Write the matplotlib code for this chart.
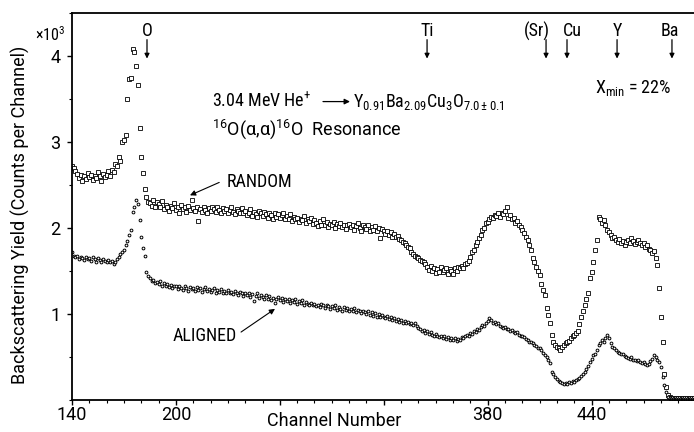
import matplotlib
matplotlib.use("Agg")
import matplotlib.pyplot as plt
import matplotlib.font_manager as fm
from matplotlib.ticker import MultipleLocator

# ---------------- data (yield in units of 10^3 counts per channel) ----------------
channel_start = 140
random_yield = [
    2.72, 2.70, 2.66, 2.63, 2.58, 2.62, 2.55, 2.60, 2.57, 2.64,   # 140
    2.59, 2.62, 2.56, 2.61, 2.58, 2.65, 2.60, 2.55, 2.63, 2.59,   # 150
    2.62, 2.66, 2.60, 2.68, 2.65, 2.74, 2.72, 2.82, 2.78, 3.00,   # 160
    3.02, 3.08, 3.50, 3.73, 3.75, 4.08, 4.05, 3.88, 3.66, 3.16,   # 170
    2.82, 2.64, 2.45, 2.36, 2.30, 2.29, 2.26, 2.33, 2.24, 2.30,   # 180
    2.28, 2.25, 2.31, 2.22, 2.27, 2.24, 2.20, 2.26, 2.23, 2.29,   # 190
    2.21, 2.25, 2.18, 2.27, 2.22, 2.24, 2.19, 2.26, 2.21, 2.33,   # 200
    2.23, 2.20, 2.25, 2.08, 2.22, 2.19, 2.24, 2.21, 2.18, 2.23,   # 210
    2.20, 2.24, 2.22, 2.19, 2.25, 2.21, 2.18, 2.23, 2.20, 2.22,   # 220
    2.17, 2.21, 2.24, 2.19, 2.16, 2.22, 2.20, 2.18, 2.23, 2.17,   # 230
    2.20, 2.15, 2.18, 2.22, 2.14, 2.19, 2.16, 2.13, 2.20, 2.17,   # 240
    2.14, 2.19, 2.16, 2.12, 2.18, 2.15, 2.10, 2.17, 2.13, 2.16,   # 250
    2.12, 2.15, 2.18, 2.10, 2.14, 2.11, 2.16, 2.08, 2.13, 2.10,   # 260
    2.12, 2.07, 2.11, 2.09, 2.14, 2.06, 2.10, 2.08, 2.12, 2.05,   # 270
    2.09, 2.06, 2.02, 2.08, 2.04, 2.10, 2.03, 2.07, 2.01, 2.05,   # 280
    2.03, 2.07, 2.00, 2.05, 2.02, 2.06, 2.01, 2.04, 1.99, 2.03,   # 290
    2.05, 2.01, 2.03, 1.98, 2.02, 2.06, 2.00, 1.97, 2.03, 2.01,   # 300
    1.99, 2.03, 1.96, 2.01, 1.98, 2.02, 1.97, 2.00, 1.88, 1.99,   # 310
    1.97, 1.93, 1.96, 1.92, 1.95, 1.90, 1.93, 1.89, 1.91, 1.87,   # 320
    1.86, 1.84, 1.82, 1.80, 1.78, 1.77, 1.72, 1.70, 1.68, 1.66,   # 330
    1.65, 1.63, 1.62, 1.60, 1.58, 1.55, 1.51, 1.56, 1.50, 1.53,   # 340
    1.48, 1.52, 1.49, 1.55, 1.49, 1.51, 1.54, 1.47, 1.52, 1.50,   # 350
    1.46, 1.53, 1.50, 1.55, 1.53, 1.56, 1.54, 1.58, 1.59, 1.62,   # 360
    1.66, 1.72, 1.75, 1.80, 1.84, 1.88, 1.92, 1.98, 2.00, 2.06,   # 370
    2.07, 2.10, 2.13, 2.12, 2.15, 2.14, 2.17, 2.13, 2.18, 2.16,   # 380
    2.20, 2.24, 2.12, 2.15, 2.11, 2.12, 2.06, 2.08, 2.04, 2.01,   # 390
    1.98, 1.94, 1.90, 1.86, 1.80, 1.74, 1.65, 1.60, 1.55, 1.50,   # 400
    1.45, 1.35, 1.28, 1.22, 1.07, 0.99, 0.90, 0.76, 0.68, 0.64,   # 410
    0.62, 0.60, 0.58, 0.62, 0.64, 0.66, 0.67, 0.69, 0.72, 0.74,   # 420
    0.76, 0.78, 0.80, 0.88, 0.97, 1.04, 1.10, 1.18, 1.24, 1.42,   # 430
    1.49, 1.60, 1.74, 1.86, 2.13, 2.10, 2.06, 2.09, 2.03, 1.98,   # 440
    1.95, 1.92, 1.88, 1.90, 1.86, 1.84, 1.87, 1.82, 1.85, 1.80,   # 450
    1.84, 1.86, 1.83, 1.88, 1.85, 1.81, 1.84, 1.86, 1.82, 1.80,   # 460
    1.83, 1.78, 1.80, 1.76, 1.74, 1.71, 1.73, 1.65, 1.57, 1.30,   # 470
    0.97, 0.67, 0.30, 0.15, 0.06, 0.03, 0.02, 0.02, 0.02, 0.02,   # 480
    0.02, 0.02, 0.02, 0.02, 0.02, 0.02, 0.02, 0.02, 0.02, 0.02,   # 490
]
aligned_yield = [
    1.72, 1.68, 1.66, 1.67, 1.64, 1.66, 1.65, 1.63, 1.66, 1.64,   # 140
    1.65, 1.62, 1.66, 1.64, 1.61, 1.65, 1.63, 1.60, 1.64, 1.62,   # 150
    1.61, 1.63, 1.60, 1.62, 1.58, 1.61, 1.64, 1.66, 1.70, 1.72,   # 160
    1.74, 1.80, 1.85, 1.92, 1.98, 2.19, 2.25, 2.32, 2.28, 2.09,   # 170
    1.90, 1.77, 1.67, 1.49, 1.44, 1.42, 1.38, 1.40, 1.36, 1.37,   # 180
    1.35, 1.38, 1.33, 1.36, 1.32, 1.35, 1.31, 1.34, 1.30, 1.33,   # 190
    1.32, 1.29, 1.33, 1.30, 1.28, 1.32, 1.30, 1.27, 1.31, 1.29,   # 200
    1.30, 1.27, 1.31, 1.28, 1.30, 1.26, 1.29, 1.31, 1.27, 1.29,   # 210
    1.26, 1.28, 1.30, 1.25, 1.28, 1.26, 1.29, 1.24, 1.27, 1.25,   # 220
    1.28, 1.24, 1.26, 1.23, 1.27, 1.25, 1.22, 1.26, 1.24, 1.21,   # 230
    1.25, 1.22, 1.24, 1.20, 1.23, 1.15, 1.21, 1.24, 1.19, 1.22,   # 240
    1.20, 1.17, 1.22, 1.18, 1.21, 1.16, 1.19, 1.13, 1.18, 1.20,   # 250
    1.16, 1.19, 1.14, 1.17, 1.15, 1.18, 1.13, 1.16, 1.14, 1.17,   # 260
    1.12, 1.15, 1.13, 1.16, 1.11, 1.14, 1.12, 1.10, 1.13, 1.11,   # 270
    1.12, 1.09, 1.11, 1.08, 1.12, 1.10, 1.07, 1.11, 1.09, 1.06,   # 280
    1.09, 1.07, 1.10, 1.05, 1.08, 1.06, 1.04, 1.08, 1.05, 1.07,   # 290
    1.04, 1.06, 1.03, 1.07, 1.02, 1.05, 1.03, 1.01, 1.04, 1.02,   # 300
    1.00, 1.03, 0.99, 1.02, 0.98, 1.01, 0.97, 1.00, 0.96, 0.99,   # 310
    0.97, 0.95, 0.98, 0.94, 0.96, 0.93, 0.95, 0.92, 0.94, 0.91,   # 320
    0.93, 0.90, 0.92, 0.89, 0.91, 0.88, 0.90, 0.87, 0.89, 0.86,   # 330
    0.84, 0.82, 0.80, 0.81, 0.78, 0.80, 0.77, 0.79, 0.76, 0.75,   # 340
    0.77, 0.74, 0.73, 0.75, 0.72, 0.74, 0.71, 0.73, 0.70, 0.72,   # 350
    0.70, 0.72, 0.69, 0.71, 0.70, 0.73, 0.72, 0.75, 0.76, 0.74,   # 360
    0.78, 0.77, 0.80, 0.79, 0.82, 0.81, 0.85, 0.87, 0.86, 0.90,   # 370
    0.92, 0.95, 0.93, 0.90, 0.91, 0.88, 0.89, 0.86, 0.85, 0.84,   # 380
    0.85, 0.82, 0.83, 0.80, 0.81, 0.79, 0.78, 0.79, 0.76, 0.75,   # 390
    0.74, 0.73, 0.71, 0.70, 0.68, 0.67, 0.66, 0.64, 0.63, 0.61,   # 400
    0.60, 0.58, 0.55, 0.52, 0.50, 0.47, 0.43, 0.33, 0.30, 0.27,   # 410
    0.24, 0.22, 0.21, 0.20, 0.19, 0.20, 0.19, 0.21, 0.20, 0.22,   # 420
    0.21, 0.23, 0.24, 0.26, 0.28, 0.30, 0.33, 0.36, 0.40, 0.44,   # 430
    0.48, 0.52, 0.54, 0.58, 0.64, 0.66, 0.70, 0.68, 0.72, 0.76,   # 440
    0.72, 0.66, 0.62, 0.60, 0.58, 0.56, 0.55, 0.53, 0.54, 0.51,   # 450
    0.50, 0.49, 0.48, 0.50, 0.47, 0.46, 0.45, 0.47, 0.44, 0.43,   # 460
    0.44, 0.42, 0.41, 0.42, 0.45, 0.48, 0.52, 0.50, 0.46, 0.44,   # 470
    0.38, 0.27, 0.17, 0.09, 0.04, 0.02, 0.01, 0.01, 0.01, 0.01,   # 480
    0.01, 0.01, 0.01, 0.01, 0.01, 0.01, 0.01, 0.01, 0.01, 0.01,   # 490
]
channels = list(range(channel_start, channel_start + len(random_yield)))

x_ticks = [140, 200, 260, 320, 380, 440]
x_tick_labels = ["140", "200", "", "", "380", "440"]
y_ticks = [1, 2, 3, 4]
y_tick_labels = ["1", "2", "3", "4"]

element_labels = ["O", "Ti", "(Sr)", "Cu", "Y", "Ba"]
element_channels = [183.3, 345.0, 413.7, 425.8, 454.7, 486.4]
element_label_channels = [183.3, 345.0, 408.5, 428.7, 454.7, 485.0]

# ---------------- font ----------------
names = {f.name for f in fm.fontManager.ttflist}
family = "DejaVu Sans"
for cand in ["Roboto Condensed", "Liberation Sans Narrow", "Open Sans Condensed"]:
    if cand in names:
        family = cand
        break
wide = "Roboto" if "Roboto" in names else family
plt.rcParams["font.family"] = [family, "DejaVu Sans"]
plt.rcParams["font.stretch"] = "condensed"
plt.rcParams["font.weight"] = "normal"
plt.rcParams["mathtext.default"] = "regular"

FS = 13
wide_font = dict(family=[wide, "DejaVu Sans"], stretch="normal", weight="normal")

# ---------------- figure ----------------
W, H = 694, 432
fig = plt.figure(figsize=(W / 100, H / 100), dpi=100)
ax = fig.add_axes([72 / W, 32 / H, (W - 72) / W, (400 - 12.7) / H])

ax.plot(channels, random_yield, linestyle="none", marker="s", ms=2.6,
        mfc="white", mec="black", mew=0.6)
ax.plot(channels, aligned_yield, linestyle="none", marker="o", ms=2.0,
        mfc="white", mec="black", mew=0.7)

ax.set_xlim(140, 140 + (W - 72) / 1.732)
ax.set_ylim(0, (400 - 12.7) / 86.0)

ax.set_xticks(x_ticks)
ax.set_xticklabels(x_tick_labels, fontdict=wide_font)
ax.set_yticks(y_ticks)
ax.set_yticklabels(y_tick_labels, fontdict=wide_font)
ax.xaxis.set_minor_locator(MultipleLocator(10))
ax.yaxis.set_minor_locator(MultipleLocator(0.5))
ax.tick_params(axis="both", which="major", direction="out", length=3.5,
               width=1.0, labelsize=FS)
ax.tick_params(axis="both", which="minor", direction="out", length=2.0, width=0.8)
ax.tick_params(axis="x", pad=1)
ax.tick_params(axis="y", pad=5)
ax.spines["right"].set_visible(False)
for s in ["left", "bottom", "top"]:
    ax.spines[s].set_linewidth(1.3)

# axis titles
fig.text(50 / W, 1 - 35 / H, r"$\times10^{3}$", ha="center", va="center", fontsize=11.5)
fig.text(20 / W, 1 - 215 / H, "Backscattering Yield (Counts per Channel)",
         rotation=90, ha="center", va="center", fontsize=FS, **wide_font)
fig.text(334 / W, 1 - 421 / H, "Channel Number", ha="center", va="center",
         fontsize=FS, **wide_font)

# element markers
for lab, c_arrow, c_lab in zip(element_labels, element_channels, element_label_channels):
    ax.text(c_lab, 4.29, lab, ha="center", va="center", fontsize=FS)
    ax.annotate("", xy=(c_arrow, 3.97), xytext=(c_arrow, 4.19),
                arrowprops=dict(arrowstyle="-|>", lw=0.9, color="black",
                                mutation_scale=7, shrinkA=0, shrinkB=0))

# annotations
ax.text(220.8, 3.407, "3.04 MeV He$^{+}$", ha="left", va="baseline", fontsize=FS)
ax.annotate("", xy=(140 + (350 - 72) / 1.732, 3.47), xytext=(140 + (323 - 72) / 1.732, 3.47),
            arrowprops=dict(arrowstyle="-|>", lw=0.9, color="black",
                            mutation_scale=8, shrinkA=0, shrinkB=0))
ax.text(140 + (353 - 72) / 1.732, 3.407,
        r"Y$_{0.91}$Ba$_{2.09}$Cu$_{3}$O$_{7.0\pm0.1}$",
        ha="left", va="baseline", fontsize=FS)
ax.text(220.8, 3.08, r"$^{16}$O(α,α)$^{16}$O  Resonance", ha="left", va="baseline",
        fontsize=FS, **wide_font)
ax.text(442.0, 3.57, r"X$_{min}$ = 22%", ha="left", va="baseline", fontsize=FS)

ax.text(229.5, 2.48, "RANDOM", ha="left", va="baseline", fontsize=FS)
ax.annotate("", xy=(208.1, 2.38), xytext=(225.0, 2.53),
            arrowprops=dict(arrowstyle="-|>", lw=0.8, color="black",
                            mutation_scale=8, shrinkA=0, shrinkB=0))
ax.text(198.3, 0.686, "ALIGNED", ha="left", va="baseline", fontsize=FS)
ax.annotate("", xy=(257.2, 1.06), xytext=(237.6, 0.79),
            arrowprops=dict(arrowstyle="-|>", lw=0.8, color="black",
                            mutation_scale=8, shrinkA=0, shrinkB=0))

fig.savefig("out.png", dpi=100)
